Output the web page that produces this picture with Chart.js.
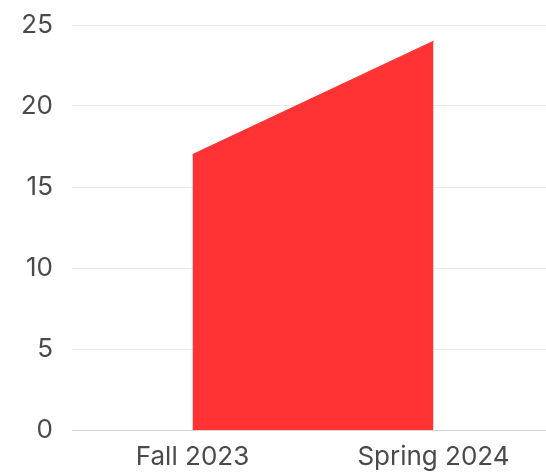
<!DOCTYPE html>
<html>
<head>
<meta charset="utf-8">
<script src="https://cdn.jsdelivr.net/npm/chart.js@4"></script>
<style>
  html, body { margin: 0; padding: 0; background: #fff; overflow: hidden; }
  #wrap { width: 556px; height: 474px; }
</style>
</head>
<body>
<div id="wrap"><canvas id="areaChart"></canvas></div>
<script>
var terms = ['Fall 2023', 'Spring 2024'];
var counts = [17, 24];
var yTicks = [0, 5, 10, 15, 20, 25];

var ctx = document.getElementById('areaChart');
new Chart(ctx.getContext('2d'), {
  type: 'line',
  data: { labels: terms, datasets: [
    { label: 'Count', data: counts, borderColor: '#ff3333', backgroundColor: '#ff3333', borderWidth: 1, pointRadius: 0, fill: 'origin', tension: 0 }
  ]},
  options: {
    responsive: true, maintainAspectRatio: false, animation: false,
    layout: { padding: { top: 25, right: 2, bottom: 0, left: 0 } },
    plugins: { legend: { display: false }, tooltip: { enabled: false } },
    scales: {
      x: { offset: true, grid: { display: false }, border: { color: '#d4d4d4', width: 1 },
        afterFit: function(s) { s.height = s.height - 2; },
        ticks: { font: { family: 'Inter', size: 26, lineHeight: 1.0 }, color: '#4a4a4a', padding: 6 } },
      y: { min: yTicks[0], max: yTicks[yTicks.length - 1],
        grid: { color: '#e8e8e8', drawTicks: false }, border: { display: false },
        afterBuildTicks: function(s) { s.ticks = yTicks.map(function(v) { return { value: v }; }); },
        afterFit: function(s) { s.width = 72; s.paddingTop = 0; s.paddingBottom = 0; },
        ticks: { font: { family: 'Inter', size: 26 }, color: '#4a4a4a', padding: 19 } }
    }
  }
});
</script>
</body>
</html>
